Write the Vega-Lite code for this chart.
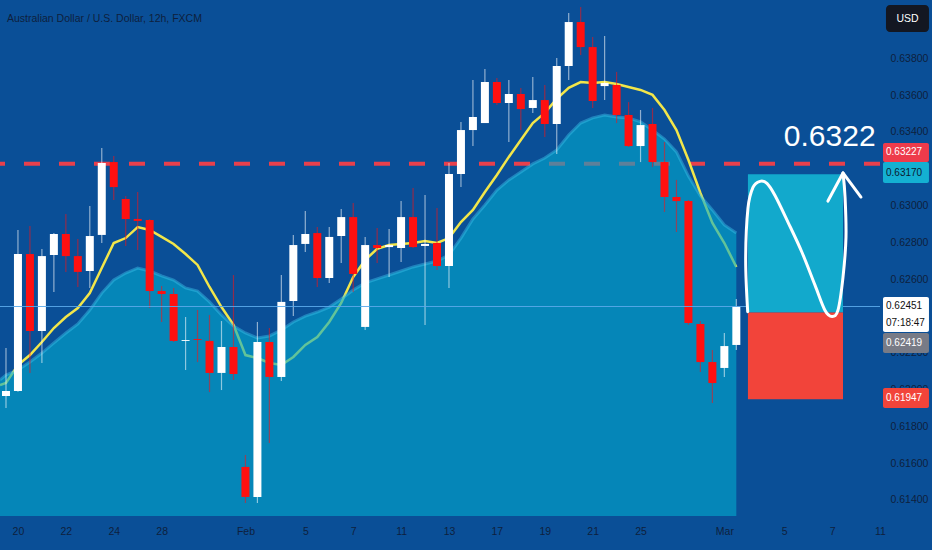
{
"$schema": "https://vega.github.io/schema/vega-lite/v6.json",
"width": 880, "height": 516,
"autosize": {"type": "none"},
"padding": {"left": 0, "top": 0, "right": 52, "bottom": 34},
"background": "#0a4f97",
"config": {"view": {"stroke": null, "fill": "#0a4f97"}, "font": "Liberation Sans",
  "scale": {"continuousPadding": 0},
  "axis": {"ticks": false, "domain": false, "grid": false, "labelColor": "#0e1f3d", "labelFontSize": 10.5, "labelFont": "Liberation Sans", "labelFlush": false, "labelOverlap": false}},
"title": {"text": "Australian Dollar / U.S. Dollar, 12h, FXCM", "anchor": "start", "frame": "group", "orient": "top", "offset": -24, "dx": 7, "fontSize": 10.5, "fontWeight": "normal", "color": "#0e1f3d", "font": "Liberation Sans"},
"datasets": {
"candles": [
{"i":0,"o":0.61965,"h":0.62226,"l":0.61899,"c":0.61992},
{"i":1,"o":0.61992,"h":0.62867,"l":0.61988,"c":0.62736},
{"i":2,"o":0.62736,"h":0.62889,"l":0.62090,"c":0.62318},
{"i":3,"o":0.62318,"h":0.62764,"l":0.62144,"c":0.62725},
{"i":4,"o":0.62731,"h":0.62850,"l":0.62530,"c":0.62845},
{"i":5,"o":0.62845,"h":0.62954,"l":0.62639,"c":0.62725},
{"i":6,"o":0.62725,"h":0.62818,"l":0.62557,"c":0.62639},
{"i":7,"o":0.62644,"h":0.62997,"l":0.62552,"c":0.62834},
{"i":8,"o":0.62840,"h":0.63312,"l":0.62796,"c":0.63231},
{"i":9,"o":0.63236,"h":0.63269,"l":0.63030,"c":0.63100},
{"i":10,"o":0.63035,"h":0.63052,"l":0.62780,"c":0.62927},
{"i":11,"o":0.62927,"h":0.63073,"l":0.62758,"c":0.62916},
{"i":12,"o":0.62921,"h":0.62925,"l":0.62443,"c":0.62535},
{"i":13,"o":0.62535,"h":0.62562,"l":0.62367,"c":0.62519},
{"i":14,"o":0.62519,"h":0.62552,"l":0.62258,"c":0.62264},
{"i":15,"o":0.62264,"h":0.62394,"l":0.62106,"c":0.62269},
{"i":16,"o":0.62274,"h":0.62432,"l":0.62149,"c":0.62269},
{"i":17,"o":0.62264,"h":0.62405,"l":0.61986,"c":0.62090},
{"i":18,"o":0.62090,"h":0.62372,"l":0.61997,"c":0.62231},
{"i":19,"o":0.62231,"h":0.62622,"l":0.62052,"c":0.62084},
{"i":20,"o":0.61579,"h":0.61644,"l":0.61383,"c":0.61416},
{"i":21,"o":0.61416,"h":0.62367,"l":0.61383,"c":0.62258},
{"i":22,"o":0.62258,"h":0.62334,"l":0.61709,"c":0.62068},
{"i":23,"o":0.62068,"h":0.62622,"l":0.62046,"c":0.62476},
{"i":24,"o":0.62481,"h":0.62840,"l":0.62399,"c":0.62785},
{"i":25,"o":0.62791,"h":0.62970,"l":0.62747,"c":0.62845},
{"i":26,"o":0.62850,"h":0.62883,"l":0.62557,"c":0.62606},
{"i":27,"o":0.62606,"h":0.62883,"l":0.62579,"c":0.62829},
{"i":28,"o":0.62834,"h":0.62981,"l":0.62687,"c":0.62937},
{"i":29,"o":0.62937,"h":0.63014,"l":0.62530,"c":0.62628},
{"i":30,"o":0.62340,"h":0.62829,"l":0.62323,"c":0.62785},
{"i":31,"o":0.62785,"h":0.62878,"l":0.62687,"c":0.62769},
{"i":32,"o":0.62774,"h":0.62872,"l":0.62611,"c":0.62785},
{"i":33,"o":0.62769,"h":0.63024,"l":0.62693,"c":0.62937},
{"i":34,"o":0.62937,"h":0.63095,"l":0.62769,"c":0.62774},
{"i":35,"o":0.62780,"h":0.63057,"l":0.62351,"c":0.62791},
{"i":36,"o":0.62796,"h":0.62986,"l":0.62649,"c":0.62671},
{"i":37,"o":0.62671,"h":0.63231,"l":0.62552,"c":0.63171},
{"i":38,"o":0.63171,"h":0.63454,"l":0.63100,"c":0.63410},
{"i":39,"o":0.63410,"h":0.63682,"l":0.63323,"c":0.63481},
{"i":40,"o":0.63448,"h":0.63742,"l":0.63448,"c":0.63671},
{"i":41,"o":0.63671,"h":0.63693,"l":0.63546,"c":0.63557},
{"i":42,"o":0.63557,"h":0.63682,"l":0.63345,"c":0.63606},
{"i":43,"o":0.63606,"h":0.63639,"l":0.63410,"c":0.63524},
{"i":44,"o":0.63530,"h":0.63698,"l":0.63503,"c":0.63573},
{"i":45,"o":0.63573,"h":0.63655,"l":0.63372,"c":0.63443},
{"i":46,"o":0.63443,"h":0.63802,"l":0.63280,"c":0.63758},
{"i":47,"o":0.63758,"h":0.64046,"l":0.63682,"c":0.63997},
{"i":48,"o":0.63997,"h":0.64079,"l":0.63818,"c":0.63861},
{"i":49,"o":0.63861,"h":0.63916,"l":0.63530,"c":0.63568},
{"i":50,"o":0.63649,"h":0.63921,"l":0.63573,"c":0.63666},
{"i":51,"o":0.63655,"h":0.63726,"l":0.63448,"c":0.63492},
{"i":52,"o":0.63492,"h":0.63562,"l":0.63318,"c":0.63323},
{"i":53,"o":0.63323,"h":0.63519,"l":0.63236,"c":0.63437},
{"i":54,"o":0.63443,"h":0.63530,"l":0.63209,"c":0.63236},
{"i":55,"o":0.63236,"h":0.63345,"l":0.62965,"c":0.63046},
{"i":56,"o":0.63046,"h":0.63139,"l":0.62856,"c":0.63024},
{"i":57,"o":0.63024,"h":0.63030,"l":0.62351,"c":0.62361},
{"i":58,"o":0.62356,"h":0.62372,"l":0.62095,"c":0.62149},
{"i":59,"o":0.62149,"h":0.62215,"l":0.61927,"c":0.62035},
{"i":60,"o":0.62117,"h":0.62307,"l":0.62068,"c":0.62236},
{"i":61,"o":0.62242,"h":0.62492,"l":0.62215,"c":0.62451}
],
"series": [
{"i":-0.5,"ma":0.62024,"band":0.62052},
{"i":0,"ma":0.62035,"band":0.62079},
{"i":1,"ma":0.62133,"band":0.62106},
{"i":2,"ma":0.62187,"band":0.62149},
{"i":3,"ma":0.62258,"band":0.62198},
{"i":4,"ma":0.62334,"band":0.62253},
{"i":5,"ma":0.62394,"band":0.62307},
{"i":6,"ma":0.62443,"band":0.62356},
{"i":7,"ma":0.62524,"band":0.62432},
{"i":8,"ma":0.62660,"band":0.62524},
{"i":9,"ma":0.62796,"band":0.62595},
{"i":10,"ma":0.62823,"band":0.62633},
{"i":11,"ma":0.62883,"band":0.62660},
{"i":12,"ma":0.62867,"band":0.62644},
{"i":13,"ma":0.62829,"band":0.62617},
{"i":14,"ma":0.62791,"band":0.62595},
{"i":15,"ma":0.62736,"band":0.62552},
{"i":16,"ma":0.62677,"band":0.62535},
{"i":17,"ma":0.62557,"band":0.62476},
{"i":18,"ma":0.62448,"band":0.62405},
{"i":19,"ma":0.62351,"band":0.62345},
{"i":20,"ma":0.62187,"band":0.62307},
{"i":21,"ma":0.62171,"band":0.62280},
{"i":22,"ma":0.62144,"band":0.62291},
{"i":23,"ma":0.62133,"band":0.62323},
{"i":24,"ma":0.62177,"band":0.62367},
{"i":25,"ma":0.62242,"band":0.62399},
{"i":26,"ma":0.62285,"band":0.62421},
{"i":27,"ma":0.62367,"band":0.62448},
{"i":28,"ma":0.62470,"band":0.62492},
{"i":29,"ma":0.62611,"band":0.62541},
{"i":30,"ma":0.62704,"band":0.62579},
{"i":31,"ma":0.62764,"band":0.62601},
{"i":32,"ma":0.62785,"band":0.62622},
{"i":33,"ma":0.62791,"band":0.62644},
{"i":34,"ma":0.62796,"band":0.62666},
{"i":35,"ma":0.62807,"band":0.62682},
{"i":36,"ma":0.62796,"band":0.62698},
{"i":37,"ma":0.62823,"band":0.62731},
{"i":38,"ma":0.62910,"band":0.62823},
{"i":39,"ma":0.62976,"band":0.62927},
{"i":40,"ma":0.63073,"band":0.63003},
{"i":41,"ma":0.63166,"band":0.63084},
{"i":42,"ma":0.63264,"band":0.63139},
{"i":43,"ma":0.63356,"band":0.63182},
{"i":44,"ma":0.63448,"band":0.63226},
{"i":45,"ma":0.63503,"band":0.63258},
{"i":46,"ma":0.63579,"band":0.63302},
{"i":47,"ma":0.63639,"band":0.63383},
{"i":48,"ma":0.63671,"band":0.63448},
{"i":49,"ma":0.63666,"band":0.63476},
{"i":50,"ma":0.63671,"band":0.63492},
{"i":51,"ma":0.63660,"band":0.63481},
{"i":52,"ma":0.63644,"band":0.63476},
{"i":53,"ma":0.63628,"band":0.63454},
{"i":54,"ma":0.63601,"band":0.63410},
{"i":55,"ma":0.63519,"band":0.63361},
{"i":56,"ma":0.63410,"band":0.63291},
{"i":57,"ma":0.63247,"band":0.63160},
{"i":58,"ma":0.63068,"band":0.63052},
{"i":59,"ma":0.62905,"band":0.62976},
{"i":60,"ma":0.62796,"band":0.62894},
{"i":61,"ma":0.62666,"band":0.62850}
],
"levels": [
{"name":"resistance","price":0.63227},
{"name":"last","price":0.62451}
],
"position": [
{"zone":"profit","top":0.63170,"bottom":0.62419},
{"zone":"loss","top":0.62419,"bottom":0.61947}
],
"sketch": [
{"part":"curve","k":0,"i":61.95,"p":0.62423},
{"part":"curve","k":1,"i":61.78,"p":0.62704},
{"part":"curve","k":2,"i":61.97,"p":0.62984},
{"part":"curve","k":3,"i":62.39,"p":0.63098},
{"part":"curve","k":4,"i":62.97,"p":0.63131},
{"part":"curve","k":5,"i":63.56,"p":0.63120},
{"part":"curve","k":6,"i":64.23,"p":0.63054},
{"part":"curve","k":7,"i":65.31,"p":0.62910},
{"part":"curve","k":8,"i":66.48,"p":0.62746},
{"part":"curve","k":9,"i":67.57,"p":0.62567},
{"part":"curve","k":10,"i":68.40,"p":0.62431},
{"part":"curve","k":11,"i":68.99,"p":0.62397},
{"part":"curve","k":12,"i":69.49,"p":0.62431},
{"part":"curve","k":13,"i":69.91,"p":0.62611},
{"part":"curve","k":14,"i":70.16,"p":0.62829},
{"part":"curve","k":15,"i":70.08,"p":0.63046},
{"part":"curve","k":16,"i":69.91,"p":0.63177},
{"part":"arrow","k":0,"i":68.65,"p":0.63024},
{"part":"arrow","k":1,"i":69.91,"p":0.63177},
{"part":"arrow","k":2,"i":71.41,"p":0.63046}
]
},
"layer": [
{"data": {"name": "levels"}, "transform": [{"filter": "datum.name == 'resistance'"}],
 "mark": {"type": "rule", "color": "#e8404c", "strokeWidth": 4, "strokeDash": [16, 19]},
 "encoding": {"y": {"field": "price", "type": "quantitative", "title": null, "scale": {"domain": [0.613124, 0.641168], "nice": false, "zero": false}}}},
{"data": {"name": "series"},
 "mark": {"type": "line", "color": "#f2e64a", "strokeWidth": 2.5},
 "encoding": {
  "x": {"field": "i", "type": "quantitative", "title": null, "scale": {"domain": [-0.5, 73], "nice": false, "zero": false, "padding": 0}},
  "y": {"field": "ma", "type": "quantitative", "title": null, "scale": {"domain": [0.613124, 0.641168], "nice": false, "zero": false}}}},
{"data": {"name": "series"},
 "mark": {"type": "area", "color": "#02abce", "opacity": 0.6},
 "encoding": {
  "x": {"field": "i", "type": "quantitative", "title": null, "scale": {"domain": [-0.5, 73], "nice": false, "zero": false, "padding": 0},
        "axis": {"title": null, "orient": "bottom", "values": [1,5,9,13,20,25,29,33,37,41,45,49,53,60,65,69,73],
                 "labelExpr": "['20','22','24','28','Feb','5','7','11','13','17','19','21','25','Mar','5','7','11'][indexof([1,5,9,13,20,25,29,33,37,41,45,49,53,60,65,69,73], datum.value)]",
                 "labelPadding": 10}},
  "y": {"field": "band", "type": "quantitative", "title": null, "scale": {"domain": [0.613124, 0.641168], "nice": false, "zero": false},
        "axis": {"title": null, "orient": "right", "values": [0.614,0.616,0.618,0.620,0.622,0.626,0.628,0.630,0.634,0.636,0.638],
                 "format": ".5f", "labelPadding": 10, "labelAlign": "left"}},
  "y2": {"datum": 0.613124}}},
{"data": {"name": "series"},
 "mark": {"type": "line", "color": "#3cc0e8", "strokeWidth": 3, "opacity": 0.45},
 "encoding": {
  "x": {"field": "i", "type": "quantitative", "title": null, "scale": {"domain": [-0.5, 73], "nice": false, "zero": false, "padding": 0}},
  "y": {"field": "band", "type": "quantitative", "title": null, "scale": {"domain": [0.613124, 0.641168], "nice": false, "zero": false}}}},
{"data": {"name": "candles"},
 "mark": {"type": "rule", "strokeWidth": 1.2, "opacity": 0.55},
 "encoding": {
  "x": {"field": "i", "type": "quantitative", "title": null, "scale": {"domain": [-0.5, 73], "nice": false, "zero": false, "padding": 0}},
  "y": {"field": "h", "type": "quantitative", "title": null, "scale": {"domain": [0.613124, 0.641168], "nice": false, "zero": false}},
  "y2": {"field": "l"},
  "color": {"condition": {"test": "datum.c >= datum.o", "value": "#ffffff"}, "value": "#ff1010"}}},
{"data": {"name": "candles"},
 "mark": {"type": "bar", "size": 8},
 "encoding": {
  "x": {"field": "i", "type": "quantitative", "title": null, "scale": {"domain": [-0.5, 73], "nice": false, "zero": false, "padding": 0}},
  "y": {"field": "o", "type": "quantitative", "title": null, "scale": {"domain": [0.613124, 0.641168], "nice": false, "zero": false}},
  "y2": {"field": "c"},
  "color": {"condition": {"test": "datum.c >= datum.o", "value": "#ffffff"}, "value": "#ff1010"}}},
{"data": {"name": "levels"}, "transform": [{"filter": "datum.name == 'last'"}],
 "mark": {"type": "rule", "color": "#5aa8ea", "strokeWidth": 1, "opacity": 0.9},
 "encoding": {"y": {"field": "price", "type": "quantitative", "title": null, "scale": {"domain": [0.613124, 0.641168], "nice": false, "zero": false}}}},
{"data": {"name": "position"},
 "mark": {"type": "rect"},
 "encoding": {
  "x": {"datum": 61.97, "type": "quantitative", "title": null, "scale": {"domain": [-0.5, 73], "nice": false, "zero": false, "padding": 0}},
  "x2": {"datum": 69.91},
  "y": {"field": "top", "type": "quantitative", "title": null, "scale": {"domain": [0.613124, 0.641168], "nice": false, "zero": false}},
  "y2": {"field": "bottom"},
  "color": {"condition": {"test": "datum.zone == 'profit'", "value": "#12a9cc"}, "value": "#f2443a"}}},
{"data": {"name": "sketch"}, "transform": [{"filter": "datum.part == 'curve'"}],
 "mark": {"type": "line", "color": "#ffffff", "strokeWidth": 3, "interpolate": "cardinal", "strokeCap": "round"},
 "encoding": {
  "x": {"field": "i", "type": "quantitative", "title": null, "scale": {"domain": [-0.5, 73], "nice": false, "zero": false, "padding": 0}},
  "y": {"field": "p", "type": "quantitative", "title": null, "scale": {"domain": [0.613124, 0.641168], "nice": false, "zero": false}},
  "order": {"field": "k", "type": "quantitative"}}},
{"data": {"name": "sketch"}, "transform": [{"filter": "datum.part == 'arrow'"}],
 "mark": {"type": "line", "color": "#ffffff", "strokeWidth": 3, "strokeCap": "round", "strokeJoin": "round"},
 "encoding": {
  "x": {"field": "i", "type": "quantitative", "title": null, "scale": {"domain": [-0.5, 73], "nice": false, "zero": false, "padding": 0}},
  "y": {"field": "p", "type": "quantitative", "title": null, "scale": {"domain": [0.613124, 0.641168], "nice": false, "zero": false}},
  "order": {"field": "k", "type": "quantitative"}}},
{"data": {"values": [{"target": "0.6322"}]},
 "mark": {"type": "text", "color": "#ffffff", "fontSize": 30, "align": "center", "baseline": "middle", "font": "Liberation Sans"},
 "encoding": {
  "x": {"datum": 68.8, "type": "quantitative", "title": null, "scale": {"domain": [-0.5, 73], "nice": false, "zero": false, "padding": 0}},
  "y": {"datum": 0.63372, "type": "quantitative", "title": null, "scale": {"domain": [0.613124, 0.641168], "nice": false, "zero": false}},
  "text": {"field": "target"}}},
{"data": {"values": [{"tag": "0.63227"}]},
 "layer": [
  {"mark": {"type": "rect", "color": "#ee3b4b", "cornerRadius": 2},
   "encoding": {"x": {"datum": 73.25, "type": "quantitative", "title": null, "scale": {"domain": [-0.5, 73], "nice": false, "zero": false, "padding": 0}}, "x2": {"datum": 77.09},
    "y": {"datum": 0.63340, "type": "quantitative", "title": null, "scale": {"domain": [0.613124, 0.641168], "nice": false, "zero": false}}, "y2": {"datum": 0.63236}}},
  {"mark": {"type": "text", "color": "#ffffff", "fontSize": 10, "align": "left", "baseline": "middle"},
   "encoding": {"x": {"datum": 73.5, "type": "quantitative", "title": null, "scale": {"domain": [-0.5, 73], "nice": false, "zero": false, "padding": 0}},
    "y": {"datum": 0.63288, "type": "quantitative", "title": null, "scale": {"domain": [0.613124, 0.641168], "nice": false, "zero": false}}, "text": {"field": "tag"}}}]},
{"data": {"values": [{"tag": "0.63170"}]},
 "layer": [
  {"mark": {"type": "rect", "color": "#14b0d2", "cornerRadius": 2},
   "encoding": {"x": {"datum": 73.25, "type": "quantitative", "title": null, "scale": {"domain": [-0.5, 73], "nice": false, "zero": false, "padding": 0}}, "x2": {"datum": 77.09},
    "y": {"datum": 0.63236, "type": "quantitative", "title": null, "scale": {"domain": [0.613124, 0.641168], "nice": false, "zero": false}}, "y2": {"datum": 0.63122}}},
  {"mark": {"type": "text", "color": "#0b1a30", "fontSize": 10, "align": "left", "baseline": "middle"},
   "encoding": {"x": {"datum": 73.5, "type": "quantitative", "title": null, "scale": {"domain": [-0.5, 73], "nice": false, "zero": false, "padding": 0}},
    "y": {"datum": 0.63179, "type": "quantitative", "title": null, "scale": {"domain": [0.613124, 0.641168], "nice": false, "zero": false}}, "text": {"field": "tag"}}}]},
{"data": {"values": [{"tag": "0.62451", "timer": "07:18:47"}]},
 "layer": [
  {"mark": {"type": "rect", "color": "#ffffff", "cornerRadius": 2},
   "encoding": {"x": {"datum": 73.25, "type": "quantitative", "title": null, "scale": {"domain": [-0.5, 73], "nice": false, "zero": false, "padding": 0}}, "x2": {"datum": 77.09},
    "y": {"datum": 0.62503, "type": "quantitative", "title": null, "scale": {"domain": [0.613124, 0.641168], "nice": false, "zero": false}}, "y2": {"datum": 0.62312}}},
  {"mark": {"type": "text", "color": "#111111", "fontSize": 10, "align": "left", "baseline": "middle"},
   "encoding": {"x": {"datum": 73.5, "type": "quantitative", "title": null, "scale": {"domain": [-0.5, 73], "nice": false, "zero": false, "padding": 0}},
    "y": {"datum": 0.62454, "type": "quantitative", "title": null, "scale": {"domain": [0.613124, 0.641168], "nice": false, "zero": false}}, "text": {"field": "tag"}}},
  {"mark": {"type": "text", "color": "#111111", "fontSize": 10, "align": "left", "baseline": "middle"},
   "encoding": {"x": {"datum": 73.5, "type": "quantitative", "title": null, "scale": {"domain": [-0.5, 73], "nice": false, "zero": false, "padding": 0}},
    "y": {"datum": 0.62361, "type": "quantitative", "title": null, "scale": {"domain": [0.613124, 0.641168], "nice": false, "zero": false}}, "text": {"field": "timer"}}}]},
{"data": {"values": [{"tag": "0.62419"}]},
 "layer": [
  {"mark": {"type": "rect", "color": "#787b86", "cornerRadius": 2},
   "encoding": {"x": {"datum": 73.25, "type": "quantitative", "title": null, "scale": {"domain": [-0.5, 73], "nice": false, "zero": false, "padding": 0}}, "x2": {"datum": 77.09},
    "y": {"datum": 0.62307, "type": "quantitative", "title": null, "scale": {"domain": [0.613124, 0.641168], "nice": false, "zero": false}}, "y2": {"datum": 0.62198}}},
  {"mark": {"type": "text", "color": "#ffffff", "fontSize": 10, "align": "left", "baseline": "middle"},
   "encoding": {"x": {"datum": 73.5, "type": "quantitative", "title": null, "scale": {"domain": [-0.5, 73], "nice": false, "zero": false, "padding": 0}},
    "y": {"datum": 0.62253, "type": "quantitative", "title": null, "scale": {"domain": [0.613124, 0.641168], "nice": false, "zero": false}}, "text": {"field": "tag"}}}]},
{"data": {"values": [{"tag": "0.61947"}]},
 "layer": [
  {"mark": {"type": "rect", "color": "#f2443a", "cornerRadius": 2},
   "encoding": {"x": {"datum": 73.25, "type": "quantitative", "title": null, "scale": {"domain": [-0.5, 73], "nice": false, "zero": false, "padding": 0}}, "x2": {"datum": 77.09},
    "y": {"datum": 0.62008, "type": "quantitative", "title": null, "scale": {"domain": [0.613124, 0.641168], "nice": false, "zero": false}}, "y2": {"datum": 0.61899}}},
  {"mark": {"type": "text", "color": "#ffffff", "fontSize": 10, "align": "left", "baseline": "middle"},
   "encoding": {"x": {"datum": 73.5, "type": "quantitative", "title": null, "scale": {"domain": [-0.5, 73], "nice": false, "zero": false, "padding": 0}},
    "y": {"datum": 0.61954, "type": "quantitative", "title": null, "scale": {"domain": [0.613124, 0.641168], "nice": false, "zero": false}}, "text": {"field": "tag"}}}]},
{"data": {"values": [{"currency": "USD"}]},
 "layer": [
  {"mark": {"type": "rect", "color": "#131722", "cornerRadius": 4},
   "encoding": {"x": {"datum": 73.5, "type": "quantitative", "title": null, "scale": {"domain": [-0.5, 73], "nice": false, "zero": false, "padding": 0}}, "x2": {"datum": 77.09},
    "y": {"datum": 0.64090, "type": "quantitative", "title": null, "scale": {"domain": [0.613124, 0.641168], "nice": false, "zero": false}}, "y2": {"datum": 0.63943}}},
  {"mark": {"type": "text", "color": "#ffffff", "fontSize": 10.5, "align": "center", "baseline": "middle"},
   "encoding": {"x": {"datum": 75.3, "type": "quantitative", "title": null, "scale": {"domain": [-0.5, 73], "nice": false, "zero": false, "padding": 0}},
    "y": {"datum": 0.64016, "type": "quantitative", "title": null, "scale": {"domain": [0.613124, 0.641168], "nice": false, "zero": false}}, "text": {"field": "currency"}}}]}
]
}
